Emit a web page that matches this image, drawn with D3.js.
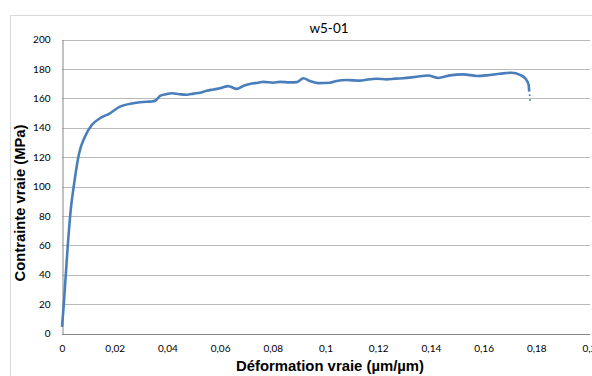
<!DOCTYPE html>
<html><head><meta charset="utf-8">
<script src="https://cdn.jsdelivr.net/npm/d3@7"></script>
<style>html,body{margin:0;padding:0;background:#fff;overflow:hidden}</style>
</head><body>
<svg id="c" width="592" height="376"></svg>
<script>
const title = "w5-01";
const xTitle = "Déformation vraie (µm/µm)";
const yTitle = "Contrainte vraie (MPa)";
const xTicks = [0,0.02,0.04,0.06,0.08,0.1,0.12,0.14,0.16,0.18,0.2];
const yTicks = [0,20,40,60,80,100,120,140,160,180,200];
const strain = [0,0.0006,0.00114,0.00216,0.0033,0.0046,0.0065,0.0087,0.0113,0.0144,0.0182,0.0220,0.027,0.0321,0.034,0.0355,0.0372,0.0395,0.0416,0.0445,0.0473,0.05,0.0524,0.0549,0.0575,0.06,0.0631,0.0663,0.069,0.0713,0.0745,0.0764,0.0802,0.0827,0.0865,0.0891,0.0916,0.0941,0.0973,0.1017,0.1042,0.108,0.1131,0.116,0.1194,0.1232,0.1265,0.1295,0.1346,0.139,0.1428,0.1472,0.1523,0.1574,0.1612,0.1662,0.1707,0.1738,0.1761,0.1771,0.1773];
const stress = [4.5,18,32,59,84,102,122.6,133.9,141.8,146.4,149.8,154.3,156.6,157.7,157.8,158.5,161.6,162.8,163.4,162.8,162.4,163.2,163.8,165.2,166,166.8,168.3,166.4,168.6,169.8,170.6,171.2,170.6,171.2,170.8,171,173.6,171.8,170.3,170.6,171.8,172.4,172.0,172.8,173.3,172.9,173.4,173.6,174.7,175.5,173.8,175.6,176.3,175.2,175.6,176.7,177.4,175.9,172.9,169,164.5];
const tailStrain = [0.1775,0.1776];
const tailStress = [162,158.8];

const svg = d3.select("#c");
const x = d3.scaleLinear().domain([0,0.2]).range([62,589]);
const y = d3.scaleLinear().domain([0,200]).range([333.5,39.5]);

// outer chart border
svg.append("rect").attr("x",10.5).attr("y",15.5).attr("width",640).attr("height",400)
  .attr("fill","none").attr("stroke","#d9d9d9").attr("stroke-width",1);

// gridlines
svg.append("g").selectAll("line").data(yTicks.filter(d=>d>0)).join("line")
  .attr("x1",62).attr("x2",590).attr("y1",d=>Math.round(y(d))+0.5).attr("y2",d=>Math.round(y(d))+0.5)
  .attr("stroke","#b9b9b9").attr("stroke-width",1);

// axes
const fmt = d => d3.format("~g")(d).replace(".", ",");
const gx = svg.append("g").attr("transform",`translate(0,${Math.round(y(0))+0.5})`)
  .call(d3.axisBottom(x).tickValues(xTicks).tickSize(0).tickPadding(10).tickFormat(fmt));
gx.select(".domain").attr("stroke","#868686").attr("d","M62,0H590");
gx.selectAll("text").attr("font-family","Lato, 'Open Sans', sans-serif").attr("font-size","10px").attr("fill","#000");

const gy = svg.append("g").attr("transform",`translate(${62.5},0)`)
  .call(d3.axisLeft(y).tickValues(yTicks).tickSize(0).tickPadding(12));
gy.select(".domain").attr("stroke","#868686");
gy.selectAll("text").attr("font-family","Lato, 'Open Sans', sans-serif").attr("font-size","10px").attr("fill","#000");

// curve
const pts = strain.map((s,i)=>[s,stress[i]]);
svg.append("path").datum(pts)
  .attr("d", d3.line().x(d=>x(d[0])).y(d=>y(d[1])).curve(d3.curveMonotoneX))
  .attr("fill","none").attr("stroke","#4a7ebb").attr("stroke-width",2.6).attr("stroke-linejoin","round");
svg.append("g").selectAll("circle").data(tailStrain.map((s,i)=>[s,tailStress[i]])).join("circle")
  .attr("cx",d=>x(d[0])).attr("cy",d=>y(d[1])).attr("r",1).attr("fill","#4a7ebb");

// titles
svg.append("text").attr("x",329).attr("y",33).attr("text-anchor","middle")
  .attr("font-family","Lato, 'Open Sans', sans-serif").attr("font-size","13.5px").text(title);
svg.append("text").attr("x",330).attr("y",371).attr("text-anchor","middle")
  .attr("font-family","'Liberation Sans', Arial, sans-serif").attr("font-weight","bold").attr("font-size","14px")
  .attr("textLength",188).attr("lengthAdjust","spacingAndGlyphs").text(xTitle);
svg.append("text").attr("transform","translate(25,203) rotate(-90)").attr("text-anchor","middle")
  .attr("font-family","'Liberation Sans', Arial, sans-serif").attr("font-weight","bold").attr("font-size","14px")
  .attr("textLength",157).attr("lengthAdjust","spacingAndGlyphs").text(yTitle);
</script>
</body></html>
